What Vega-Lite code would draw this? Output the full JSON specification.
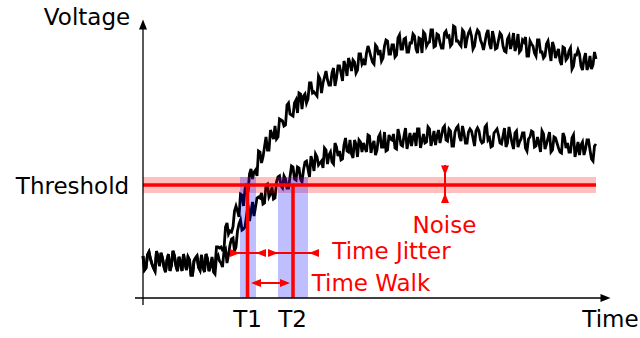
{
  "$schema": "https://vega.github.io/schema/vega-lite/v6.json",
  "width": 640,
  "height": 338,
  "autosize": {"type": "fit", "contains": "padding"},
  "padding": 0,
  "background": "white",
  "config": {"view": {"stroke": null}},
  "datasets": {
    "signal": [
      {"t":0,"a":42,"b":42},{"t":3,"a":30,"b":30},{"t":6,"a":46,"b":46},{"t":9,"a":34,"b":34},{"t":12,"a":27,"b":27},
      {"t":15,"a":41,"b":41},{"t":18,"a":45,"b":45},{"t":21,"a":31,"b":31},{"t":24,"a":38,"b":38},{"t":27,"a":27,"b":27},
      {"t":30,"a":47,"b":47},{"t":33,"a":32,"b":32},{"t":36,"a":41,"b":41},{"t":39,"a":27,"b":27},{"t":42,"a":35,"b":35},
      {"t":45,"a":41,"b":41},{"t":48,"a":23,"b":23},{"t":51,"a":37,"b":37},{"t":54,"a":42,"b":42},{"t":57,"a":28,"b":28},
      {"t":60,"a":31,"b":31},{"t":63,"a":44,"b":44},{"t":66,"a":27,"b":27},{"t":69,"a":41,"b":39},{"t":72,"a":31,"b":24},
      {"t":75,"a":51,"b":43},{"t":78,"a":51,"b":35},{"t":81,"a":49,"b":47},{"t":84,"a":75,"b":35},{"t":87,"a":67,"b":53},
      {"t":90,"a":71,"b":60},{"t":93,"a":92,"b":51},{"t":96,"a":81,"b":74},{"t":99,"a":103,"b":68},{"t":102,"a":109,"b":71},
      {"t":105,"a":106,"b":93},{"t":108,"a":129,"b":86},{"t":111,"a":126,"b":82},{"t":114,"a":122,"b":100},{"t":117,"a":146,"b":100},
      {"t":120,"a":141,"b":94},{"t":123,"a":161,"b":113},{"t":126,"a":148,"b":101},{"t":129,"a":163,"b":111},{"t":132,"a":172,"b":100},
      {"t":135,"a":161,"b":121},{"t":138,"a":178,"b":112},{"t":141,"a":172,"b":122},{"t":144,"a":193,"b":110},{"t":147,"a":184,"b":121},
      {"t":150,"a":182,"b":131},{"t":153,"a":198,"b":118},{"t":156,"a":205,"b":130},{"t":159,"a":189,"b":116},{"t":162,"a":204,"b":136},
      {"t":165,"a":199,"b":129},{"t":168,"a":215,"b":142},{"t":171,"a":206,"b":127},{"t":174,"a":202,"b":141},{"t":177,"a":219,"b":135},
      {"t":180,"a":215,"b":130},{"t":183,"a":227,"b":148},{"t":186,"a":213,"b":143},{"t":189,"a":225,"b":136},{"t":192,"a":212,"b":155},
      {"t":195,"a":232,"b":142},{"t":198,"a":225,"b":138},{"t":201,"a":237,"b":153},{"t":204,"a":222,"b":147},{"t":207,"a":235,"b":158},
      {"t":210,"a":238,"b":140},{"t":213,"a":225,"b":154},{"t":216,"a":244,"b":158},{"t":219,"a":234,"b":146},{"t":222,"a":233,"b":150},
      {"t":225,"a":252,"b":163},{"t":228,"a":241,"b":145},{"t":231,"a":234,"b":157},{"t":234,"a":251,"b":148},{"t":237,"a":248,"b":164},
      {"t":240,"a":240,"b":151},{"t":243,"a":258,"b":147},{"t":246,"a":244,"b":163},{"t":249,"a":253,"b":158},{"t":252,"a":241,"b":150},
      {"t":255,"a":260,"b":169},{"t":258,"a":249,"b":153},{"t":261,"a":259,"b":162},{"t":264,"a":246,"b":149},{"t":267,"a":255,"b":165},
      {"t":270,"a":264,"b":161},{"t":273,"a":249,"b":152},{"t":276,"a":260,"b":169},{"t":279,"a":245,"b":157},{"t":282,"a":264,"b":155},
      {"t":285,"a":255,"b":171},{"t":288,"a":268,"b":152},{"t":291,"a":251,"b":167},{"t":294,"a":264,"b":162},{"t":297,"a":255,"b":155},
      {"t":300,"a":250,"b":170},{"t":303,"a":267,"b":158},{"t":306,"a":262,"b":169},{"t":309,"a":254,"b":152},{"t":312,"a":271,"b":166},
      {"t":315,"a":257,"b":172},{"t":318,"a":252,"b":157},{"t":321,"a":266,"b":165},{"t":324,"a":259,"b":155},{"t":327,"a":268,"b":169},
      {"t":330,"a":249,"b":160},{"t":333,"a":263,"b":167},{"t":336,"a":266,"b":167},{"t":339,"a":254,"b":155},{"t":342,"a":256,"b":171},
      {"t":345,"a":268,"b":158},{"t":348,"a":249,"b":151},{"t":351,"a":260,"b":165},{"t":354,"a":250,"b":169},{"t":357,"a":265,"b":155},
      {"t":360,"a":252,"b":162},{"t":363,"a":246,"b":151},{"t":366,"a":262,"b":171},{"t":369,"a":255,"b":155},{"t":372,"a":247,"b":165},
      {"t":375,"a":264,"b":151},{"t":378,"a":248,"b":159},{"t":381,"a":256,"b":165},{"t":384,"a":242,"b":147},{"t":387,"a":257,"b":161},
      {"t":390,"a":252,"b":166},{"t":393,"a":242,"b":152},{"t":396,"a":258,"b":155},{"t":399,"a":246,"b":167},{"t":402,"a":242,"b":149},
      {"t":405,"a":257,"b":160},{"t":408,"a":237,"b":146},{"t":411,"a":251,"b":161},{"t":414,"a":245,"b":155},{"t":417,"a":237,"b":146},
      {"t":420,"a":251,"b":165},{"t":423,"a":238,"b":150},{"t":426,"a":247,"b":146},{"t":429,"a":229,"b":160},{"t":432,"a":243,"b":141},
      {"t":435,"a":248,"b":156},{"t":438,"a":232,"b":153},{"t":441,"a":239,"b":143},{"t":444,"a":228,"b":158},{"t":447,"a":242,"b":148},
      {"t":450,"a":233,"b":137},{"t":453,"a":239,"b":154},
      {"t":1.5,"a":28,"b":28},{"t":4.5,"a":43,"b":43},{"t":7.5,"a":39,"b":39},{"t":10.5,"a":30,"b":30},{"t":13.5,"a":47,"b":47},
      {"t":16.5,"a":32,"b":32},{"t":19.5,"a":40,"b":40},{"t":22.5,"a":26,"b":26},{"t":25.5,"a":44,"b":44},{"t":28.5,"a":33,"b":33},
      {"t":31.5,"a":42,"b":42},{"t":34.5,"a":27,"b":27},{"t":37.5,"a":36,"b":36},{"t":40.5,"a":44,"b":44},{"t":43.5,"a":28,"b":28},
      {"t":46.5,"a":38,"b":38},{"t":49.5,"a":23,"b":23},{"t":52.5,"a":40,"b":40},{"t":55.5,"a":31,"b":31},{"t":58.5,"a":43,"b":43},
      {"t":61.5,"a":26,"b":26},{"t":64.5,"a":39,"b":39},{"t":67.5,"a":32,"b":32},{"t":70.5,"a":30,"b":26},{"t":73.5,"a":51,"b":41},
      {"t":76.5,"a":50,"b":37},{"t":79.5,"a":48,"b":31},{"t":82.5,"a":71,"b":49},{"t":85.5,"a":64,"b":43},{"t":88.5,"a":66,"b":59},
      {"t":91.5,"a":87,"b":47},{"t":94.5,"a":87,"b":67},{"t":97.5,"a":104,"b":78},{"t":100.5,"a":92,"b":69},{"t":103.5,"a":114,"b":82},
      {"t":106.5,"a":124,"b":77},{"t":109.5,"a":119,"b":96},{"t":112.5,"a":128,"b":91},{"t":115.5,"a":147,"b":101},{"t":118.5,"a":135,"b":105},
      {"t":121.5,"a":151,"b":95},{"t":124.5,"a":148,"b":114},{"t":127.5,"a":168,"b":104},{"t":130.5,"a":159,"b":99},{"t":133.5,"a":159,"b":116},
      {"t":136.5,"a":179,"b":122},{"t":139.5,"a":177,"b":110},{"t":142.5,"a":173,"b":119},{"t":145.5,"a":195,"b":110},{"t":148.5,"a":183,"b":132},
      {"t":151.5,"a":195,"b":119},{"t":154.5,"a":185,"b":131},{"t":157.5,"a":204,"b":119},{"t":160.5,"a":202,"b":128},{"t":163.5,"a":195,"b":137},
      {"t":166.5,"a":215,"b":121},{"t":169.5,"a":205,"b":136},{"t":172.5,"a":204,"b":144},{"t":175.5,"a":222,"b":133},{"t":178.5,"a":205,"b":137},
      {"t":181.5,"a":221,"b":150},{"t":184.5,"a":218,"b":134},{"t":187.5,"a":213,"b":146},{"t":190.5,"a":230,"b":134},{"t":193.5,"a":220,"b":151},
      {"t":196.5,"a":232,"b":147},{"t":199.5,"a":217,"b":139},{"t":202.5,"a":232,"b":160},{"t":205.5,"a":240,"b":146},{"t":208.5,"a":227,"b":144},
      {"t":211.5,"a":236,"b":158},{"t":214.5,"a":228,"b":141},{"t":217.5,"a":244,"b":156},{"t":220.5,"a":237,"b":155},{"t":223.5,"a":245,"b":146},
      {"t":226.5,"a":247,"b":162},{"t":229.5,"a":236,"b":153},{"t":232.5,"a":253,"b":143},{"t":235.5,"a":243,"b":161},{"t":238.5,"a":237,"b":151},
      {"t":241.5,"a":252,"b":166},{"t":244.5,"a":257,"b":148},{"t":247.5,"a":244,"b":159},{"t":250.5,"a":253,"b":164},{"t":253.5,"a":243,"b":149},
      {"t":256.5,"a":263,"b":162},{"t":259.5,"a":249,"b":152},{"t":262.5,"a":260,"b":170},{"t":265.5,"a":246,"b":157},{"t":268.5,"a":255,"b":152},
      {"t":271.5,"a":262,"b":165},{"t":274.5,"a":245,"b":169},{"t":277.5,"a":259,"b":150},{"t":280.5,"a":266,"b":164},{"t":283.5,"a":252,"b":156},
      {"t":286.5,"a":256,"b":169},{"t":289.5,"a":268,"b":159},{"t":292.5,"a":252,"b":153},{"t":295.5,"a":263,"b":168},{"t":298.5,"a":250,"b":162},
      {"t":301.5,"a":265,"b":172},{"t":304.5,"a":261,"b":157},{"t":307.5,"a":252,"b":167},{"t":310.5,"a":272,"b":152},{"t":313.5,"a":257,"b":170},
      {"t":316.5,"a":254,"b":161},{"t":319.5,"a":268,"b":172},{"t":322.5,"a":250,"b":155},{"t":325.5,"a":265,"b":166},{"t":328.5,"a":262,"b":167},
      {"t":331.5,"a":252,"b":152},{"t":334.5,"a":268,"b":170},{"t":337.5,"a":258,"b":158},{"t":340.5,"a":248,"b":156},{"t":343.5,"a":264,"b":173},
      {"t":346.5,"a":254,"b":160},{"t":349.5,"a":267,"b":152},{"t":352.5,"a":249,"b":167},{"t":355.5,"a":258,"b":163},{"t":358.5,"a":263,"b":154},
      {"t":361.5,"a":247,"b":170},{"t":364.5,"a":259,"b":155},{"t":367.5,"a":249,"b":163},{"t":370.5,"a":265,"b":149},{"t":373.5,"a":252,"b":167},
      {"t":376.5,"a":246,"b":156},{"t":379.5,"a":258,"b":165},{"t":382.5,"a":261,"b":150},{"t":385.5,"a":242,"b":159},{"t":388.5,"a":254,"b":167},
      {"t":391.5,"a":245,"b":151},{"t":394.5,"a":258,"b":161},{"t":397.5,"a":246,"b":146},{"t":400.5,"a":240,"b":164},{"t":403.5,"a":254,"b":154},
      {"t":406.5,"a":247,"b":166},{"t":409.5,"a":256,"b":148},{"t":412.5,"a":240,"b":160},{"t":415.5,"a":249,"b":150},{"t":418.5,"a":233,"b":145},
      {"t":421.5,"a":250,"b":161},{"t":424.5,"a":240,"b":155},{"t":427.5,"a":250,"b":146},{"t":430.5,"a":232,"b":163},{"t":433.5,"a":243,"b":148},
      {"t":436.5,"a":244,"b":143},{"t":439.5,"a":228,"b":156},{"t":442.5,"a":245,"b":149},{"t":445.5,"a":232,"b":158},{"t":448.5,"a":229,"b":139},
      {"t":451.5,"a":246,"b":152}
    ],
    "bands": [
      {"name":"noise band","kind":"noise","t":0,"t2":453,"v":105,"v2":121},
      {"name":"T1 jitter","kind":"jitter","t":97,"t2":113,"v":0,"v2":121},
      {"name":"T2 jitter","kind":"jitter","t":135,"t2":165,"v":0,"v2":121}
    ],
    "rules": [
      {"name":"threshold","kind":"level","t":0,"t2":453,"v":113,"v2":113},
      {"name":"T1","kind":"level","t":104.5,"t2":104.5,"v":0,"v2":113},
      {"name":"T2","kind":"level","t":150,"t2":150,"v":0,"v2":113},
      {"name":"voltage axis","kind":"axis","t":0,"t2":0,"v":-7,"v2":270},
      {"name":"time axis","kind":"axis","t":-8,"t2":458,"v":0,"v2":0},
      {"name":"jitter T1","kind":"marker","t":88,"t2":122,"v":45,"v2":45},
      {"name":"jitter T2","kind":"marker","t":126,"t2":176,"v":45,"v2":45},
      {"name":"walk","kind":"marker","t":110,"t2":145,"v":15,"v2":15},
      {"name":"noise","kind":"marker","t":302,"t2":302,"v":95,"v2":133}
    ],
    "heads": [
      {"group":"axis","dir":"up","t":0,"v":273.5},
      {"group":"axis","dir":"right","t":462.5,"v":0},
      {"group":"marker","dir":"right","t":92,"v":45},
      {"group":"marker","dir":"left","t":118,"v":45},
      {"group":"marker","dir":"right","t":130,"v":45},
      {"group":"marker","dir":"left","t":171,"v":45},
      {"group":"marker","dir":"left","t":113,"v":15},
      {"group":"marker","dir":"right","t":142,"v":15},
      {"group":"marker","dir":"down","t":302,"v":127.5},
      {"group":"marker","dir":"up","t":302,"v":100}
    ],
    "labels": [
      {"group":"axis","text":"Voltage","t":-56,"v":273},
      {"group":"axis","text":"Threshold","t":-70.5,"v":104},
      {"group":"axis","text":"Time","t":467.5,"v":-29},
      {"group":"axis","text":"T1","t":104.5,"v":-29},
      {"group":"axis","text":"T2","t":149.5,"v":-29},
      {"group":"marker","text":"Noise","t":301.5,"v":65},
      {"group":"marker","text":"Time Jitter","t":248.5,"v":39},
      {"group":"marker","text":"Time Walk","t":228,"v":7}
    ]
  },
  "layer": [
    {
      "data": {"name": "signal"},
      "transform": [{"fold": ["a", "b"], "as": ["curve", "v"]}],
      "mark": {"type": "line", "color": "black", "strokeWidth": 2.8, "strokeJoin": "miter", "strokeMiterLimit": 4},
      "encoding": {
        "x": {"field": "t", "type": "quantitative", "scale": {"domain": [-143, 497], "nice": false, "zero": false}, "axis": null},
        "y": {"field": "v", "type": "quantitative", "scale": {"domain": [-40, 298], "nice": false, "zero": false}, "axis": null},
        "detail": {"field": "curve"}
      }
    },
    {
      "data": {"name": "bands"},
      "mark": {"type": "rect", "opacity": 0.25},
      "encoding": {
        "x": {"field": "t", "type": "quantitative"},
        "x2": {"field": "t2"},
        "y": {"field": "v", "type": "quantitative"},
        "y2": {"field": "v2"},
        "color": {"field": "kind", "type": "nominal", "scale": {"domain": ["noise", "jitter", "axis", "marker"], "range": ["#ff0000", "#0000ff", "black", "#ff0000"]}, "legend": null}
      }
    },
    {
      "data": {"name": "rules"},
      "transform": [{"filter": "datum.kind === 'level'"}],
      "mark": {"type": "rule", "color": "#ff0000", "strokeWidth": 3.5},
      "encoding": {
        "x": {"field": "t", "type": "quantitative"},
        "x2": {"field": "t2"},
        "y": {"field": "v", "type": "quantitative"},
        "y2": {"field": "v2"}
      }
    },
    {
      "data": {"name": "rules"},
      "transform": [{"filter": "datum.kind === 'axis'"}],
      "mark": {"type": "rule", "color": "black", "strokeWidth": 1.3},
      "encoding": {
        "x": {"field": "t", "type": "quantitative"},
        "x2": {"field": "t2"},
        "y": {"field": "v", "type": "quantitative"},
        "y2": {"field": "v2"}
      }
    },
    {
      "data": {"name": "rules"},
      "transform": [{"filter": "datum.kind === 'marker'"}],
      "mark": {"type": "rule", "color": "#ff0000", "strokeWidth": 2},
      "encoding": {
        "x": {"field": "t", "type": "quantitative"},
        "x2": {"field": "t2"},
        "y": {"field": "v", "type": "quantitative"},
        "y2": {"field": "v2"}
      }
    },
    {
      "data": {"name": "heads"},
      "mark": {"type": "point", "filled": true, "opacity": 1, "size": 100, "strokeWidth": 0},
      "encoding": {
        "x": {"field": "t", "type": "quantitative"},
        "y": {"field": "v", "type": "quantitative"},
        "shape": {"field": "dir", "type": "nominal", "scale": {"domain": ["up", "down", "right", "left"], "range": ["M0,-1L0.8,1L-0.8,1Z", "M0,1L0.8,-1L-0.8,-1Z", "M1,0L-1,0.8L-1,-0.8Z", "M-1,0L1,0.8L1,-0.8Z"]}, "legend": null},
        "color": {"field": "group", "type": "nominal", "scale": {"domain": ["noise", "jitter", "axis", "marker"], "range": ["#ff0000", "#0000ff", "black", "#ff0000"]}, "legend": null}
      }
    },
    {
      "data": {"name": "labels"},
      "mark": {"type": "text", "font": "DejaVu Sans", "fontSize": 23, "align": "center", "baseline": "alphabetic"},
      "encoding": {
        "x": {"field": "t", "type": "quantitative"},
        "y": {"field": "v", "type": "quantitative"},
        "text": {"field": "text"},
        "color": {"field": "group", "type": "nominal", "scale": {"domain": ["noise", "jitter", "axis", "marker"], "range": ["#ff0000", "#0000ff", "black", "#ff0000"]}, "legend": null}
      }
    }
  ]
}
